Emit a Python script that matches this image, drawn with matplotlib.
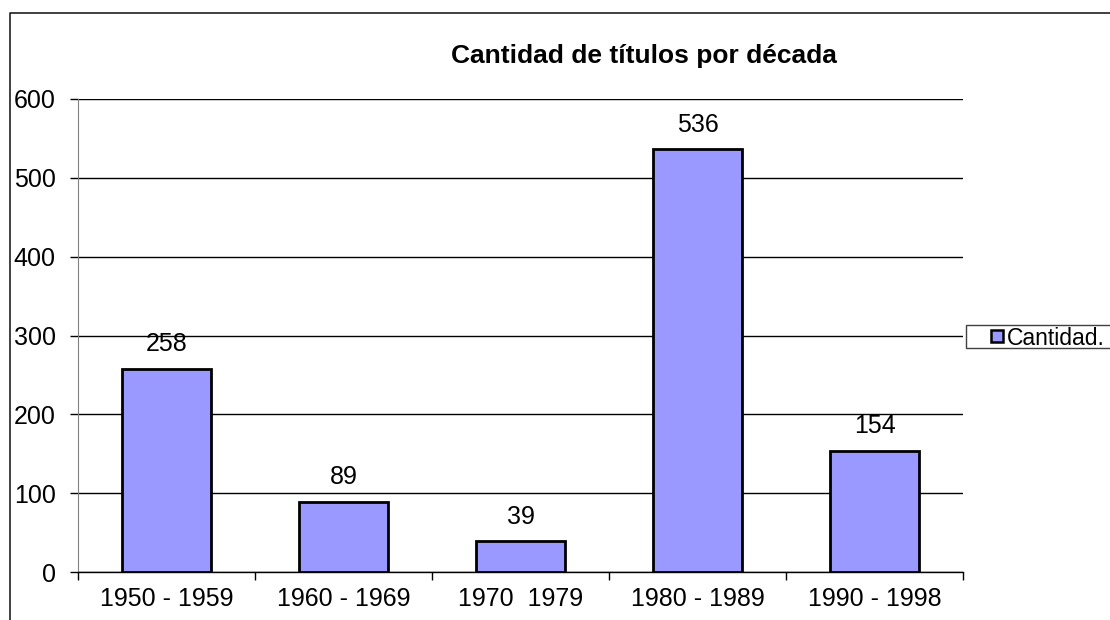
import numpy as np
import matplotlib.pyplot as plt
from matplotlib.patches import Rectangle
from matplotlib.lines import Line2D

plt.rcParams['font.family'] = ['Liberation Sans', 'DejaVu Sans']

decadas = ["1950 - 1959", "1960 - 1969", "1970  1979", "1980 - 1989", "1990 - 1998"]
cantidad = [258, 89, 39, 536, 154]
yticks = [0, 100, 200, 300, 400, 500, 600]

W, H = 1110, 620
fig = plt.figure(figsize=(W/100, H/100), dpi=100)
ax = fig.add_axes([78/W, 48/H, (963-78)/W, (572-99)/H])

x = np.arange(len(decadas))
bars = ax.bar(x, cantidad, width=0.5, color="#9999FF", edgecolor="black",
              linewidth=2, zorder=3)
for xi, v in zip(x, cantidad):
    ax.text(xi, v + 16, str(v), ha="center", va="bottom", fontsize=18)

ax.set_xlim(-0.5, len(decadas) - 0.5)
ax.set_ylim(0, 600)
ax.set_yticks(yticks)
ax.tick_params(axis="y", length=6, width=1, labelsize=18, pad=10)
ax.yaxis.grid(True, color="black", linewidth=1)
ax.set_xticks(x)
ax.set_xticklabels(decadas)
ax.set_xticks(np.arange(len(decadas) + 1) - 0.5, minor=True)
ax.tick_params(axis="x", which="major", length=0, labelsize=18, pad=11)
ax.tick_params(axis="x", which="minor", length=6, width=1)
for s in ["top", "right"]:
    ax.spines[s].set_visible(False)
ax.spines["left"].set_color("#808080")
ax.spines["bottom"].set_linewidth(1)

fig.text(644/W, 1 - 63/H, "Cantidad de títulos por década", ha="center",
         va="baseline", fontsize=19, fontweight="bold")

# legend drawn as a box that runs off the right edge, like the original
fig.patches.append(Rectangle((966/W, 1 - 348/H), 200/W, 23/H,
                             transform=fig.transFigure, facecolor="white",
                             edgecolor="#404040", linewidth=1))
fig.patches.append(Rectangle((991/W, 1 - 342/H), 12/W, 12/H,
                             transform=fig.transFigure, facecolor="#9999FF",
                             edgecolor="black", linewidth=1.8))
fig.text(1007/W, 1 - 336/H, "Cantidad.", ha="left", va="center_baseline",
         fontsize=16.5)

# outer chart frame (top and left edges visible)
fig.lines.append(Line2D([10/W, 10/W, 1.0], [0, 1 - 13/H, 1 - 13/H],
                        transform=fig.transFigure, color="#202020",
                        linewidth=1.2))

fig.savefig("out.png", dpi=100)
